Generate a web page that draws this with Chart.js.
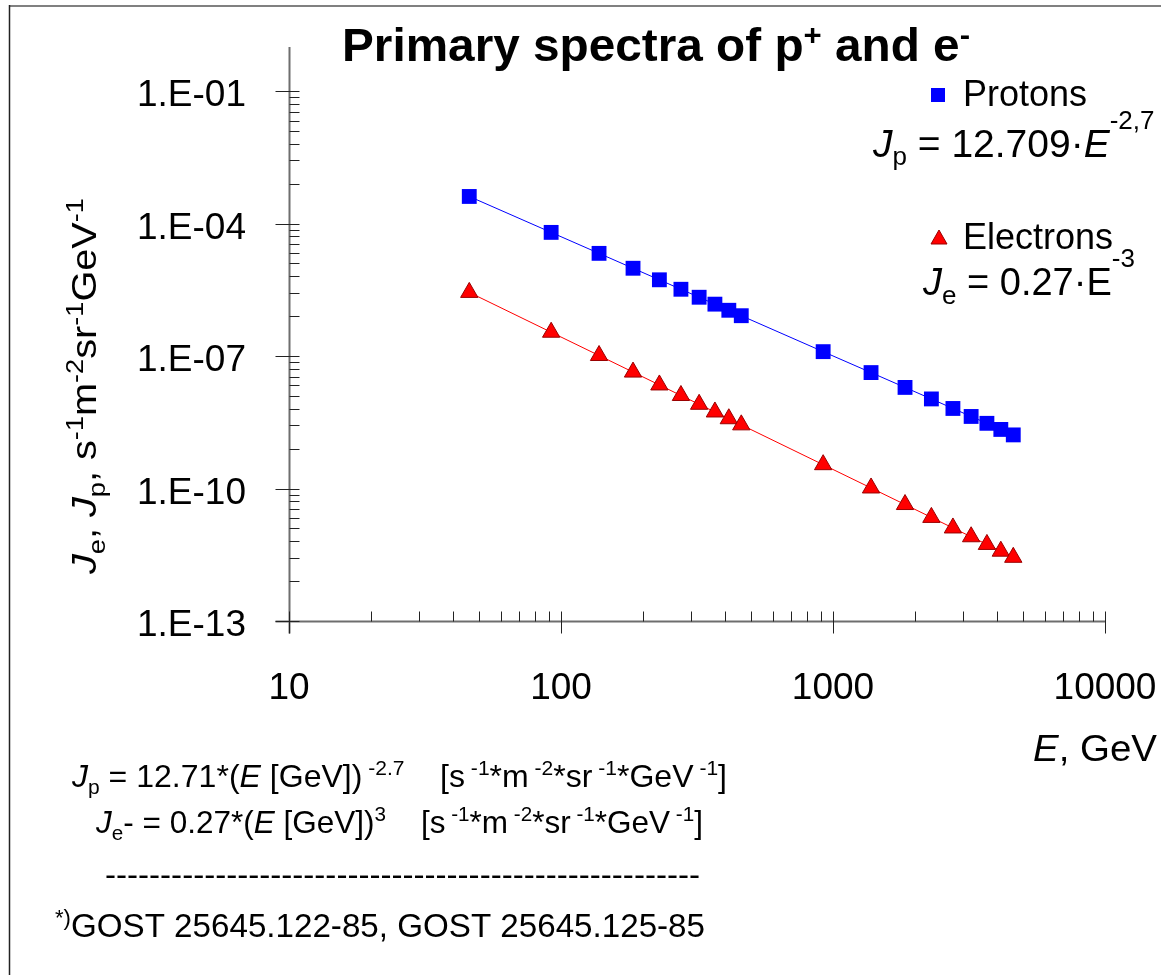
<!DOCTYPE html>
<html>
<head>
<meta charset="utf-8">
<title>Primary spectra of p+ and e-</title>
<script src="https://cdn.jsdelivr.net/npm/chart.js@4.4.1/dist/chart.umd.min.js"></script>
<style>
  html, body { margin: 0; padding: 0; background: #fff; }
  #wrap { width: 1161px; height: 975px; }
</style>
</head>
<body>
<div id="wrap"><canvas id="spectra" width="1161" height="975"></canvas></div>
<script>
// energies (GeV) where both spectra were evaluated
const energyGeV = [46, 92, 138, 184, 230, 276, 322, 368, 414, 460, 920, 1380, 1840, 2300, 2760, 3220, 3680, 4140, 4600];
// J_p, s-1 m-2 sr-1 GeV-1
const protonFlux = [4.12e-4, 6.33e-5, 2.12e-5, 9.75e-6, 5.34e-6, 3.26e-6, 2.15e-6, 1.50e-6, 1.09e-6, 8.21e-7,
  1.26e-7, 4.23e-8, 1.95e-8, 1.07e-8, 6.51e-9, 4.29e-9, 3.00e-9, 2.18e-9, 1.64e-9];
// J_e
const electronFlux = [2.77e-6, 3.47e-7, 1.03e-7, 4.34e-8, 2.22e-8, 1.28e-8, 8.09e-9, 5.42e-9, 3.81e-9, 2.77e-9,
  3.47e-10, 1.03e-10, 4.34e-11, 2.22e-11, 1.28e-11, 8.09e-12, 5.42e-12, 3.81e-12, 2.77e-12];

const xTickValues = [10, 100, 1000, 10000];
const xTickLabels = ['10', '100', '1000', '10000'];
const yTickValues = [1e-13, 1e-10, 1e-7, 1e-4, 1e-1];
const yTickLabels = ['1.E-13', '1.E-10', '1.E-07', '1.E-04', '1.E-01'];

const FONT = '"Liberation Sans", Arial, Helvetica, sans-serif';

function runFont(kind, size, small, bold) {
  const b = bold ? 'bold ' : '';
  if (kind === 'i') return 'italic ' + b + size + 'px ' + FONT;
  if (kind === 'sup' || kind === 'sub') return b + small + 'px ' + FONT;
  return b + size + 'px ' + FONT;
}

// draws a line of text made of runs: [text, kind]
function drawRich(ctx, runs, x, y, o) {
  const size = o.size, small = o.small || Math.round(size * 0.65);
  let natural = 0;
  for (const r of runs) {
    ctx.font = runFont(r[1], size, small, o.bold);
    natural += ctx.measureText(r[0]).width;
  }
  const sx = o.fit ? o.fit / natural : 1;
  ctx.save();
  ctx.translate(x, y);
  if (o.rotate) ctx.rotate(o.rotate);
  ctx.scale(sx, 1);
  ctx.fillStyle = o.color || '#000';
  ctx.textBaseline = 'alphabetic';
  ctx.textAlign = 'left';
  let cx = 0;
  for (const r of runs) {
    ctx.font = runFont(r[1], size, small, o.bold);
    let dy = 0;
    if (r[1] === 'sup') dy = -(o.supUp || size * 0.45);
    if (r[1] === 'sub') dy = (o.subDown || size * 0.22);
    ctx.fillText(r[0], cx, dy);
    cx += ctx.measureText(r[0]).width;
  }
  ctx.restore();
}

const decor = {
  id: 'decor',
  beforeDraw(chart) {
    const ctx = chart.ctx;
    ctx.save();
    ctx.fillStyle = '#fff';
    ctx.fillRect(0, 0, chart.width, chart.height);
    // frame of the picture (top and left only are visible)
    ctx.strokeStyle = '#808080';
    ctx.lineWidth = 2;
    ctx.beginPath(); ctx.moveTo(9, 6); ctx.lineTo(1161, 6); ctx.stroke();
    ctx.strokeStyle = '#222';
    ctx.lineWidth = 1.5;
    ctx.beginPath(); ctx.moveTo(9.5, 5); ctx.lineTo(9.5, 975); ctx.stroke();
    ctx.restore();
  },
  beforeDatasetsDraw(chart) {
    const ctx = chart.ctx, xs = chart.scales.x, ys = chart.scales.y;
    const area = chart.chartArea;
    const x0 = Math.round(xs.getPixelForValue(10)) + 0.5;
    const y0 = Math.round(ys.getPixelForValue(1e-13)) + 0.5;
    ctx.save();
    // axis lines
    ctx.strokeStyle = '#6e6e6e';
    ctx.lineWidth = 2;
    ctx.beginPath();
    ctx.moveTo(x0, area.top); ctx.lineTo(x0, y0 + 12);
    ctx.moveTo(x0 - 14, y0); ctx.lineTo(area.right, y0);
    ctx.stroke();
    // ticks
    ctx.strokeStyle = '#222';
    ctx.lineWidth = 1;
    ctx.beginPath();
    for (let i = 0; i < yTickValues.length; i++) {
      const py = Math.round(ys.getPixelForValue(yTickValues[i])) + 0.5;
      ctx.moveTo(x0 - 14, py); ctx.lineTo(x0 + 10, py);
      if (i < yTickValues.length - 1) {
        for (let k = 2; k <= 9; k++) {
          const my = Math.round(ys.getPixelForValue(yTickValues[i] * k * k * k)) + 0.5;
          ctx.moveTo(x0, my); ctx.lineTo(x0 + 10, my);
        }
      }
    }
    for (let i = 0; i < xTickValues.length; i++) {
      const px = Math.round(xs.getPixelForValue(xTickValues[i])) + 0.5;
      ctx.moveTo(px, y0 - 10); ctx.lineTo(px, y0 + 12);
      if (i < xTickValues.length - 1) {
        for (let k = 2; k <= 9; k++) {
          const mx = Math.round(xs.getPixelForValue(xTickValues[i] * k)) + 0.5;
          ctx.moveTo(mx, y0 - 10); ctx.lineTo(mx, y0);
        }
      }
    }
    ctx.stroke();

    // tick labels
    ctx.fillStyle = '#000';
    ctx.font = '37px ' + FONT;
    ctx.textAlign = 'right';
    ctx.textBaseline = 'alphabetic';
    yTickValues.forEach((v, i) => {
      ctx.fillText(yTickLabels[i], 246, ys.getPixelForValue(v) + 15);
    });
    ctx.textAlign = 'center';
    xTickValues.forEach((v, i) => {
      ctx.fillText(xTickLabels[i], xs.getPixelForValue(v), 699);
    });
    ctx.restore();
  },
  afterDraw(chart) {
    const ctx = chart.ctx;
    // title
    drawRich(ctx, [['Primary spectra of p', ''], ['+', 'sup'], [' and e', ''], ['-', 'sup']],
      342, 61, { size: 46, small: 30, bold: true, supUp: 16, fit: 628 });
    // x axis title
    drawRich(ctx, [['E', 'i'], [', GeV', '']], 1033, 761, { size: 37, fit: 124 });
    // y axis title
    drawRich(ctx, [['J', 'i'], ['e', 'sub'], [', ', ''], ['J', 'i'], ['p', 'sub'], [', s', ''], ['-1', 'sup'],
      ['m', ''], ['-2', 'sup'], ['sr', ''], ['-1', 'sup'], ['GeV', ''], ['-1', 'sup']],
      96, 574, { size: 35, small: 24, rotate: -Math.PI / 2, supUp: 13, subDown: 9, fit: 376 });

    // legend
    ctx.save();
    ctx.fillStyle = '#0000ff';
    ctx.fillRect(931, 88, 14, 14);
    ctx.fillStyle = '#ff0000';
    ctx.strokeStyle = '#990000';
    ctx.lineWidth = 1;
    ctx.beginPath();
    ctx.moveTo(939, 230); ctx.lineTo(947, 244); ctx.lineTo(931, 244); ctx.closePath();
    ctx.fill(); ctx.stroke();
    ctx.fillStyle = '#000';
    ctx.font = '36px ' + FONT;
    ctx.textAlign = 'left';
    ctx.textBaseline = 'alphabetic';
    ctx.fillText('Protons', 963, 106);
    ctx.fillText('Electrons', 963, 249);
    ctx.restore();
    drawRich(ctx, [['J', 'i'], ['p', 'sub'], [' = 12.709·', ''], ['E', 'i'], ['-2,7', 'sup']],
      873, 157, { size: 39, small: 26, supUp: 28, subDown: 8 });
    drawRich(ctx, [['J', 'i'], ['e', 'sub'], [' = 0.27·E', ''], ['-3', 'sup']],
      923, 295, { size: 38, small: 26, supUp: 28, subDown: 9 });

    // formulas under the chart
    const units = [['    [s', ''], [' -1', 'sup'], ['*m', ''], [' -2', 'sup'], ['*sr', ''], [' -1', 'sup'],
      ['*GeV', ''], [' -1', 'sup'], [']', '']];
    drawRich(ctx, [['J', 'i'], ['p', 'sub'], [' = 12.71*(', ''], ['E', 'i'], [' [GeV])', ''], [' -2.7', 'sup']].concat(units),
      72, 787, { size: 32, small: 21, supUp: 12, subDown: 7, fit: 655 });
    drawRich(ctx, [['J', 'i'], ['e', 'sub'], ['- = 0.27*(', ''], ['E', 'i'], [' [GeV])', ''], ['3', 'sup']].concat(units),
      96, 833, { size: 32, small: 21, supUp: 12, subDown: 7, fit: 607 });
    drawRich(ctx, [['-'.repeat(54), '']], 105, 885, { size: 32, fit: 595 });
    drawRich(ctx, [['*)', 'sup'], ['GOST 25645.122-85, GOST 25645.125-85', '']],
      55, 937, { size: 33, small: 22, supUp: 12, fit: 650 });
  }
};

const protonPoints = energyGeV.map((e, i) => ({ x: e, y: protonFlux[i] }));
const electronPoints = energyGeV.map((e, i) => ({ x: e, y: electronFlux[i] }));

new Chart(document.getElementById('spectra'), {
  type: 'scatter',
  data: {
    datasets: [
      {
        label: 'Protons',
        data: protonPoints,
        showLine: true,
        borderColor: '#0000ff',
        borderWidth: 1,
        backgroundColor: '#0000ff',
        pointStyle: 'rect',
        pointRadius: 10.5,
        pointBorderWidth: 0,
        pointBackgroundColor: '#0000ff',
        clip: false
      },
      {
        label: 'Electrons',
        data: electronPoints,
        showLine: true,
        borderColor: '#ff0000',
        borderWidth: 1,
        backgroundColor: '#ff0000',
        pointStyle: 'triangle',
        pointRadius: 10,
        pointBorderWidth: 1,
        pointBorderColor: '#990000',
        pointBackgroundColor: '#ff0000',
        clip: false
      }
    ]
  },
  options: {
    responsive: false,
    animation: false,
    devicePixelRatio: 1,
    layout: { padding: { left: 289, right: 56, top: 47, bottom: 354 } },
    plugins: {
      legend: { display: false },
      tooltip: { enabled: false },
      title: { display: false }
    },
    scales: {
      x: { type: 'logarithmic', min: 10, max: 10000, display: false },
      y: { type: 'logarithmic', min: 1e-13, max: 1, display: false }
    }
  },
  plugins: [decor]
});
</script>
</body>
</html>
